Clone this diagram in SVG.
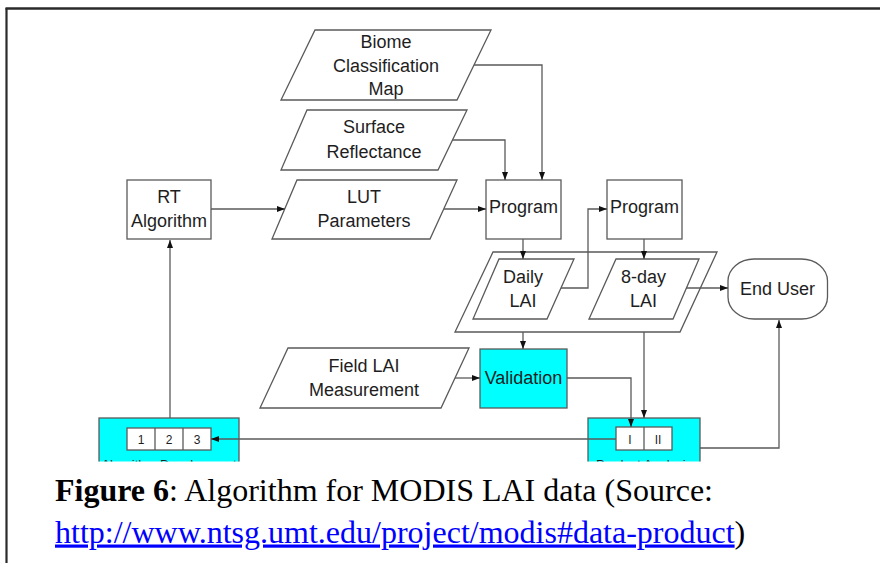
<svg xmlns="http://www.w3.org/2000/svg" width="880" height="563" viewBox="0 0 880 563">
<style>
.sh{fill:#fff;stroke:#5a5a5a;stroke-width:1.3}
.cy{fill:#00ffff;stroke:#5a5a5a;stroke-width:1.3}
.ln{fill:none;stroke:#5a5a5a;stroke-width:1.3}
.t{font-family:"Liberation Sans",Arial,sans-serif;font-size:18px;fill:#1e1e1e;text-anchor:middle}
.s{font-family:"Liberation Sans",Arial,sans-serif;font-size:12px;fill:#1e1e1e;text-anchor:middle}
.c{font-family:"Liberation Serif","Times New Roman",serif;font-size:32px;fill:#000}
</style>
<defs>
<marker id="ah" markerUnits="userSpaceOnUse" markerWidth="8" markerHeight="6" refX="8" refY="3" orient="auto">
<path d="M0,0 L8,3 L0,6 z" fill="#111"/>
</marker>
<clipPath id="cut"><rect x="0" y="0" width="880" height="461.5"/></clipPath>
</defs>
<rect x="0" y="0" width="880" height="563" fill="#fff"/>
<g id="frame">
<line x1="6.5" y1="8" x2="6.5" y2="563" stroke="#2a2a2a" stroke-width="2.2"/>
<line x1="5.5" y1="8.5" x2="880" y2="8.5" stroke="#2a2a2a" stroke-width="2.5"/>
</g>
<g id="biome">
<polygon class="sh" points="315,30 491,30 457,100 281,100"/>
<text class="t" x="386" y="48">Biome</text>
<text class="t" x="386" y="71.5">Classification</text>
<text class="t" x="386" y="94.5">Map</text>
</g>
<g id="surface">
<polygon class="sh" points="307,110 467,110 438,170 281,170"/>
<text class="t" x="374" y="133">Surface</text>
<text class="t" x="374" y="158">Reflectance</text>
</g>
<g id="lut">
<polygon class="sh" points="297,180 457,180 430,239 272,239"/>
<text class="t" x="364" y="203">LUT</text>
<text class="t" x="364" y="227">Parameters</text>
</g>
<g id="rt">
<rect class="sh" x="127" y="180" width="84" height="59"/>
<text class="t" x="169" y="203">RT</text>
<text class="t" x="169" y="227">Algorithm</text>
</g>
<g id="program1">
<rect class="sh" x="486" y="180" width="75" height="59"/>
<text class="t" x="523.5" y="213">Program</text>
</g>
<g id="program2">
<rect class="sh" x="607" y="180" width="75" height="59"/>
<text class="t" x="644.5" y="213">Program</text>
</g>
<g id="lai-group">
<polygon class="sh" points="493,252 717,252 680,332 455,332"/>
</g>
<g id="daily">
<polygon class="sh" points="499,259 574,259 547,319 473,319"/>
<text class="t" x="523" y="282.5">Daily</text>
<text class="t" x="523" y="307">LAI</text>
</g>
<g id="eightday">
<polygon class="sh" points="616,259 699,259 673,319 589,319"/>
<text class="t" x="643.5" y="282.5">8-day</text>
<text class="t" x="643.5" y="307">LAI</text>
</g>
<g id="enduser">
<rect class="sh" x="728" y="259" width="99.5" height="60" rx="26" ry="22"/>
<text class="t" x="777.5" y="295">End User</text>
</g>
<g id="field">
<polygon class="sh" points="288,348 469,348 441,408 260,408"/>
<text class="t" x="364" y="372">Field LAI</text>
<text class="t" x="364" y="396">Measurement</text>
</g>
<g id="validation">
<rect class="cy" x="480" y="349" width="87" height="59"/>
<text class="t" x="523.5" y="384">Validation</text>
</g>
<g id="algdev" clip-path="url(#cut)">
<rect class="cy" x="99" y="418" width="140" height="60"/>
<rect class="sh" x="127" y="428" width="84" height="22"/>
<line class="ln" x1="155" y1="428" x2="155" y2="450"/>
<line class="ln" x1="183" y1="428" x2="183" y2="450"/>
<text class="s" x="141" y="443.5">1</text>
<text class="s" x="169" y="443.5">2</text>
<text class="s" x="197" y="443.5">3</text>
<text class="s" x="169" y="469" style="font-size:13px">Algorithm Development</text>
</g>
<g id="prodanalysis" clip-path="url(#cut)">
<rect class="cy" x="588" y="418" width="112" height="60"/>
<rect class="sh" x="616" y="427" width="56" height="23"/>
<line class="ln" x1="644" y1="427" x2="644" y2="450"/>
<text class="s" x="630" y="443.5">I</text>
<text class="s" x="658" y="443.5">II</text>
<text class="s" x="644" y="469" style="font-size:13px">Product Analysis</text>
</g>
<g id="connectors">
<path class="ln" d="M211,209 H285" marker-end="url(#ah)"/>
<path class="ln" d="M170,418 V240" marker-end="url(#ah)"/>
<path class="ln" d="M474,65 H542 V180" marker-end="url(#ah)"/>
<path class="ln" d="M452.5,140 H505 V180" marker-end="url(#ah)"/>
<path class="ln" d="M444,209 H486" marker-end="url(#ah)"/>
<path class="ln" d="M523,239 V259" marker-end="url(#ah)"/>
<path class="ln" d="M561,288 H588 V209 H607" marker-end="url(#ah)"/>
<path class="ln" d="M644,239 V259" marker-end="url(#ah)"/>
<path class="ln" d="M686,288 H728" marker-end="url(#ah)"/>
<path class="ln" d="M523,332 V349" marker-end="url(#ah)"/>
<path class="ln" d="M455,378 H480" marker-end="url(#ah)"/>
<path class="ln" d="M567,378 H631 V427" marker-end="url(#ah)"/>
<path class="ln" d="M644,332 V418" marker-end="url(#ah)"/>
<path class="ln" d="M616,439 H211" marker-end="url(#ah)"/>
<path class="ln" d="M700,448 H779 V320" marker-end="url(#ah)"/>
</g>
<g id="caption">
<text class="c" x="55" y="500.5"><tspan font-weight="bold">Figure 6</tspan>: Algorithm for MODIS LAI data (Source:</text>
<text class="c" x="55" y="542.5"><tspan fill="#0000ff" text-decoration="underline">http://www.ntsg.umt.edu/project/modis#data-product</tspan>)</text>
</g>
</svg>
